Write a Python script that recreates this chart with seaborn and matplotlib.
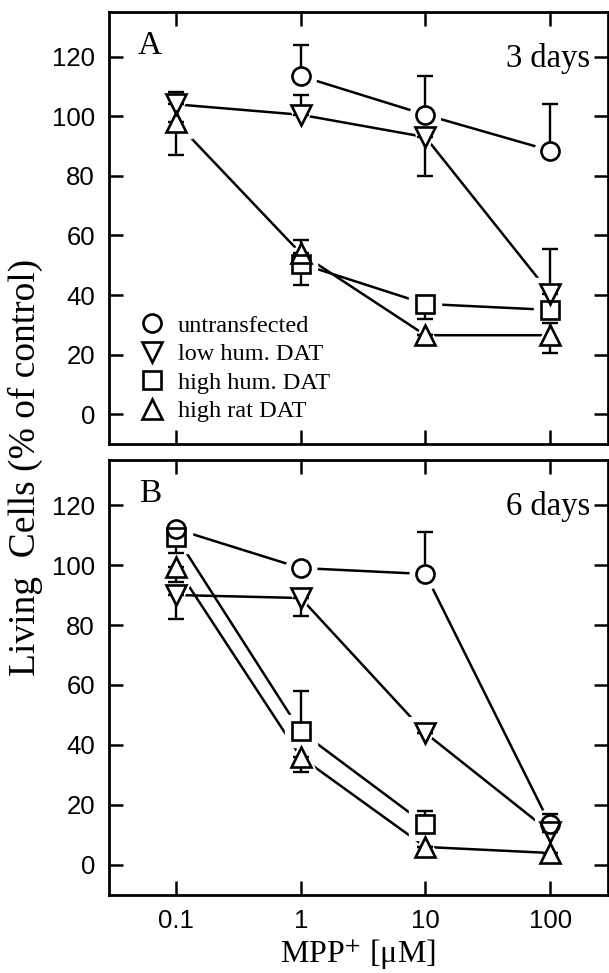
import numpy as np
import pandas as pd
import seaborn as sns
import matplotlib
matplotlib.use('Agg')
import matplotlib.pyplot as plt
from matplotlib.lines import Line2D

nan = np.nan

conc = [0.1, 1, 10, 100]
conc_labels = ['0.1', '1', '10', '100']
series_names = ['untransfected', 'low hum. DAT', 'high hum. DAT', 'high rat DAT']
series_markers = ['o', 'v', 's', '^']
y_ticks = [0, 20, 40, 60, 80, 100, 120]

# panel A, 3 days
untrans_3d = [nan, 113.5, 100.5, 88.5]
untrans_3d_up = [0, 10.5, 13, 15.5]
untrans_3d_dn = [0, 0, 0, 0]
lowhum_3d = [104, 100.5, 93, 40.5]
lowhum_3d_up = [4, 6.5, 0, 15]
lowhum_3d_dn = [0, 0, 13, 0]
highhum_3d = [nan, 50.5, 37, 35]
highhum_3d_up = [0, 0, 0, 0]
highhum_3d_dn = [0, 7, 5, 0]
highrat_3d = [98, 54, 26.5, 26.5]
highrat_3d_up = [0, 4.5, 0, 4]
highrat_3d_dn = [11, 0, 0, 6]

# panel B, 6 days
untrans_6d = [112, 99, 97, 13.5]
untrans_6d_up = [0, 0, 14, 3.5]
untrans_6d_dn = [0, 0, 0, 0]
lowhum_6d = [90, 89, 44, 11]
lowhum_6d_up = [0, 0, 0, 0]
lowhum_6d_dn = [8, 6, 0, 0]
highhum_6d = [109.5, 44.5, 13.5, nan]
highhum_6d_up = [0, 13.5, 4.5, 0]
highhum_6d_dn = [5.5, 0, 0, 0]
highrat_6d = [99.5, 36, 6, 4]
highrat_6d_up = [0, 0, 0, 0]
highrat_6d_dn = [5, 5, 0, 0]

panels = [
    ('A', '3 days',
     [untrans_3d, lowhum_3d, highhum_3d, highrat_3d],
     [untrans_3d_up, lowhum_3d_up, highhum_3d_up, highrat_3d_up],
     [untrans_3d_dn, lowhum_3d_dn, highhum_3d_dn, highrat_3d_dn]),
    ('B', '6 days',
     [untrans_6d, lowhum_6d, highhum_6d, highrat_6d],
     [untrans_6d_up, lowhum_6d_up, highhum_6d_up, highrat_6d_up],
     [untrans_6d_dn, lowhum_6d_dn, highhum_6d_dn, highrat_6d_dn]),
]

sns.set_theme(style='ticks')
plt.rcParams['font.family'] = ['Liberation Serif', 'DejaVu Serif']
plt.rcParams['mathtext.fontset'] = 'stix'
for key in ['text.color', 'axes.labelcolor', 'xtick.color', 'ytick.color',
            'xtick.labelcolor', 'ytick.labelcolor']:
    plt.rcParams[key] = 'black'

ms = {'o': 13, 'v': 14.5, '^': 14.5, 's': 13.5}
lw = 1.8

fig = plt.figure(figsize=(6.09, 9.73), dpi=100)
ax_a = fig.add_axes([0.179, 0.5437, 0.819, 0.444])
ax_b = fig.add_axes([0.179, 0.0802, 0.819, 0.447])

for ax, (letter, days, means, ups, dns) in zip([ax_a, ax_b], panels):
    rows = []
    for name, vals in zip(series_names, means):
        for c, v in zip(conc, vals):
            rows.append({'conc': c, 'value': v, 'series': name})
    df = pd.DataFrame(rows).dropna()

    sns.lineplot(data=df, x='conc', y='value', hue='series', hue_order=series_names,
                 palette=['black'] * 4, linewidth=lw, legend=False, errorbar=None,
                 ax=ax, zorder=1)

    for name, mk, vals, up, dn in zip(series_names, series_markers, means, ups, dns):
        # white halo so the lines stop short of the symbols
        ax.plot(conc, vals, linestyle='none', marker=mk, ms=ms[mk] + 9,
                mfc='white', mec='white', zorder=2)
        ax.errorbar(conc, vals, yerr=[dn, up], fmt='none', ecolor='black',
                    elinewidth=1.7, capsize=6, capthick=1.7, zorder=3)
        ax.plot(conc, vals, linestyle='none', marker=mk, ms=ms[mk],
                mfc='white', mec='white', zorder=4)
    for name, mk, vals in zip(series_names, series_markers, means):
        ax.plot(conc, vals, linestyle='none', marker=mk, ms=ms[mk],
                mfc='none', mec='black', mew=1.9, zorder=5)

    ax.set_xscale('log')
    ax.set_xlim(0.029, 290)
    ax.set_ylim(-10, 135)
    ax.set_xticks(conc)
    ax.set_xticklabels(conc_labels)
    ax.set_yticks(y_ticks)
    ax.minorticks_off()
    ax.tick_params(direction='in', length=10, width=1.8, top=True, right=True,
                   labelsize=18.5, labelfontfamily='Liberation Sans', pad=10)
    for sp in ax.spines.values():
        sp.set_linewidth(2)
        sp.set_color('black')
    ax.set_xlabel('')
    ax.set_ylabel('')

    ax.text(0.082, 0.922, letter, transform=ax.transAxes, fontsize=24,
            ha='center', va='center')
    ax.text(0.964, 0.893, days, transform=ax.transAxes, fontsize=23.5,
            ha='right', va='center')

ax_a.tick_params(labelbottom=False)

handles = [Line2D([], [], linestyle='none', marker=mk, ms=ms[mk], mfc='none',
                  mec='black', mew=1.9) for mk in series_markers]
ax_a.legend(handles, series_names, loc='lower left', bbox_to_anchor=(0.062, 0.05),
            frameon=False, fontsize=17.5, handlelength=1.0, handletextpad=0.55,
            labelspacing=0.27, borderpad=0, borderaxespad=0)

ax_b.set_xlabel('MPP$^{+}$ [μM]', fontsize=23, labelpad=3)
fig.text(0.042, 0.52, 'Living  Cells (% of control)', rotation=90, fontsize=27,
         ha='center', va='center')

fig.savefig('out.png', dpi=100)
